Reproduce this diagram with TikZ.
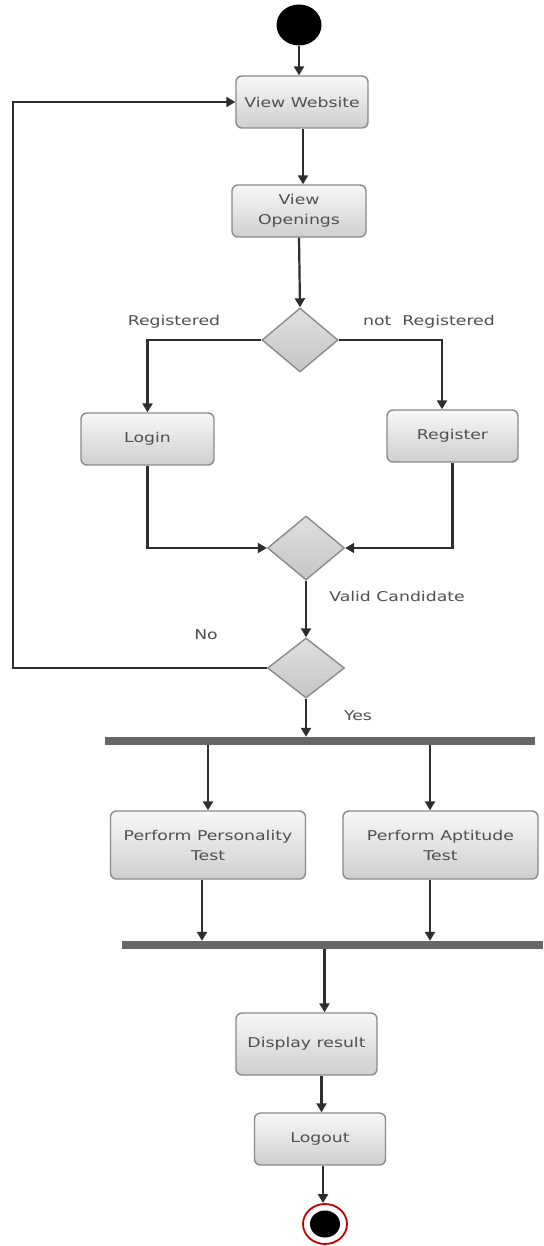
\documentclass[tikz,border=0pt]{standalone}
\usepackage{fontspec}
\setmainfont[FakeStretch=1.28]{DejaVu Sans}
\usetikzlibrary{arrows.meta,shapes.geometric,calc}
\definecolor{txtgray}{HTML}{505050}
\definecolor{edgegray}{HTML}{8A8A8A}
\definecolor{linegray}{HTML}{2E2E2E}
\definecolor{bargray}{HTML}{676767}
\begin{document}
\begin{tikzpicture}[x=1pt,y=-1pt,
  every node/.style={font=\fontsize{13.5}{20}\selectfont, text=txtgray},
  actbox/.style={rectangle, rounded corners=6pt, draw=edgegray, line width=1.4pt,
    top color=gray!6, bottom color=gray!38, align=center, inner sep=2pt},
  decis/.style={diamond, draw=edgegray, line width=1.4pt, top color=gray!25,
    bottom color=gray!45, inner sep=0pt, minimum width=#1, minimum height=64},
  bar/.style={fill=bargray, draw=none, inner sep=0pt},
  flow/.style={draw=linegray, line width=2.2pt, -{Triangle[width=10pt,length=9pt]}},
  lbl/.style={inner sep=0pt}]
\useasboundingbox[fill=white] (0,0) rectangle (543,1246);

% initial and final states
\node[ellipse, fill=black, minimum width=45, minimum height=41, inner sep=0pt] (start) at (299,25) {};
\node[ellipse, draw=red!75!black, line width=1.8pt, fill=white, minimum width=44, minimum height=40, inner sep=0pt] (stop) at (325,1224) {};
\node[ellipse, fill=black, minimum width=30, minimum height=27, inner sep=0pt] (stopcore) at (325,1224) {};

% activities
\node[actbox, minimum width=132, minimum height=52] (web) at (302,102) {View Website};
\node[actbox, minimum width=134, minimum height=52] (open) at (299,211) {View\\Openings};
\node[actbox, minimum width=133, minimum height=52] (login) at (147.5,439) {Login};
\node[actbox, minimum width=131, minimum height=52] (reg) at (452.5,436) {Register};
\node[actbox, minimum width=195, minimum height=68] (pers) at (208,845) {Perform Personality\\Test};
\node[actbox, minimum width=195, minimum height=68] (apt) at (440.5,845) {Perform Aptitude\\Test};
\node[actbox, minimum width=141, minimum height=62] (disp) at (306.5,1044) {Display result};
\node[actbox, minimum width=131, minimum height=52] (logout) at (320,1139) {Logout};

% decisions
\node[decis=76] (d1) at (300,340) {};
\node[decis=77] (d2) at (306,548) {};
\node[decis=77, minimum height=60] (d3) at (306,668) {};

% fork and join bars
\node[bar, minimum width=430, minimum height=8] (fork) at (320,741) {};
\node[bar, minimum width=421, minimum height=8] (join) at (332.5,945) {};

% guard labels
\node[lbl] (lreg) at (174,322) {Registered};
\node[lbl] (lnot) at (429,322) {not\ \ Registered};
\node[lbl] (lvalid) at (397,596) {Valid Candidate};
\node[lbl] (lno) at (206,635) {No};
\node[lbl] (lyes) at (358,716) {Yes};

% off-centre attachment points
\coordinate (loopx) at (13,668);
\coordinate (webout) at ($(web.south)+(1,0)$);
\coordinate (regin) at ($(reg.north)+(-10.5,0)$);
\coordinate (aptin) at ($(apt.north)+(-10.5,0)$);
\coordinate (aptout) at ($(apt.south)+(-10.5,0)$);
\coordinate (persout) at ($(pers.south)+(-6,0)$);
\coordinate (dispin) at ($(disp.north)+(18,0)$);
\coordinate (dispout) at ($(disp.south)+(15,0)$);
\coordinate (logoutout) at ($(logout.south)+(3,0)$);

% flows
\draw[flow] (start.south) -- (start.south |- web.north);
\draw[flow] (webout) -- (webout |- open.north);
\draw[flow] (open.south) -- (d1.north);
\draw[flow] (d1.west) -| (login.north);
\draw[flow] (d1.east) -| (regin);
\draw[flow] (login.south) |- (d2.west);
\draw[flow] (reg.south) |- (d2.east);
\draw[flow] (d2.south) -- (d3.north);
\draw[flow] (d3.west) -- (loopx) |- (web.west);
\draw[flow] (d3.south) -- (d3.south |- fork.north);
\draw[flow] (pers.north |- fork.south) -- (pers.north);
\draw[flow] (aptin |- fork.south) -- (aptin);
\draw[flow] (persout) -- (persout |- join.north);
\draw[flow] (aptout) -- (aptout |- join.north);
\draw[flow] (dispin |- join.south) -- (dispin);
\draw[flow] (dispout) -- (dispout |- logout.north);
\draw[flow] (logoutout) -- (logoutout |- stop.north);
\end{tikzpicture}
\end{document}
